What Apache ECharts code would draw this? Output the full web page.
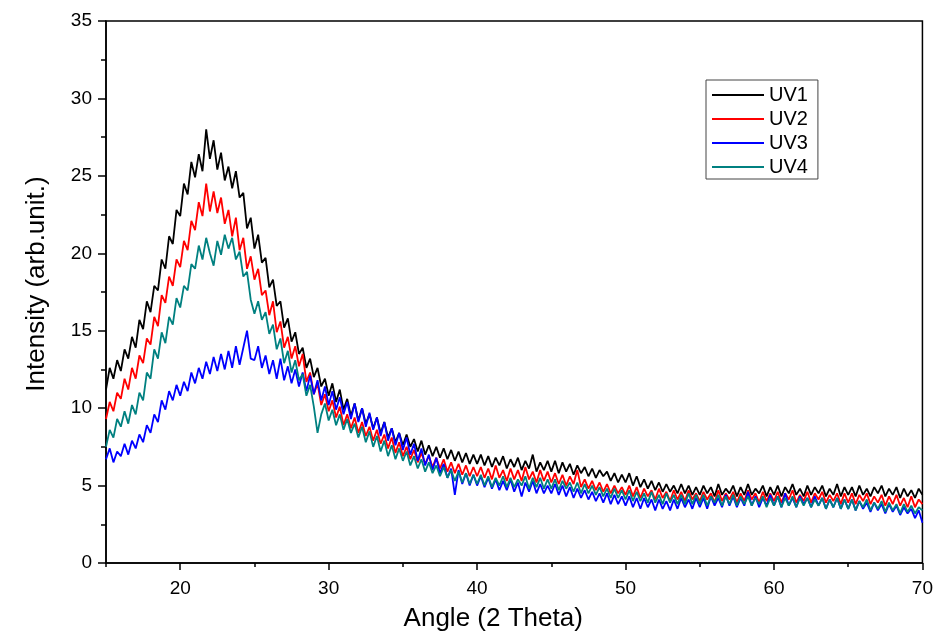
<!DOCTYPE html>
<html>
<head>
<meta charset="utf-8">
<script src="https://cdn.jsdelivr.net/npm/echarts@6/dist/echarts.min.js"></script>
<style>
html,body{margin:0;padding:0;background:#fff;}
#chart{width:936px;height:637px;}
</style>
</head>
<body>
<div id="chart"></div>
<script>
// Sampling grid of the scans (2θ in degrees)
const ANGLE_START = 15;
const ANGLE_STEP = 0.25;

const seriesNames = ['UV1', 'UV2', 'UV3', 'UV4'];
const seriesColors = ['#000000', '#ff0000', '#0000ff', '#008080'];

const xMajorTicks = [20, 30, 40, 50, 60, 70];
const xMinorTicks = [15, 25, 35, 45, 55, 65];

// Intensities, one value per 0.25°, 15° .. 70°
const uv1 = [
 11.2,12.6,11.9,13.1,12.4,13.8,13.2,14.6,13.9,15.7,15.1,16.9,16.2,17.9,17.6,19.6,19.0,21.1,20.6,22.8,
 22.4,24.5,23.8,25.9,24.9,26.4,25.3,28.0,26.1,27.3,25.4,26.5,24.7,25.6,24.2,25.3,23.6,23.9,21.6,22.3,
 20.3,21.2,19.4,19.7,17.8,18.3,16.6,16.9,15.2,15.8,14.3,14.9,13.5,13.9,12.6,13.2,12.0,12.6,11.4,11.9,
 10.8,11.6,10.4,11.2,9.9,10.6,9.5,10.3,9.2,10.0,9.0,9.6,8.7,9.4,8.4,9.1,8.1,8.7,7.8,8.4,
 7.6,8.3,7.5,8.0,7.2,7.9,7.0,7.6,6.9,7.5,6.8,7.4,6.7,7.3,6.6,7.2,6.5,7.1,6.4,7.0,
 6.4,7.0,6.3,6.9,6.2,6.8,6.3,6.9,6.1,6.7,6.2,6.8,6.0,6.6,6.1,7.0,5.9,6.5,6.0,6.6,
 5.9,6.6,5.8,6.5,5.9,6.4,5.7,6.3,5.8,6.2,5.6,6.1,5.5,6.0,5.6,5.9,5.3,5.8,5.2,5.7,
 5.2,5.8,5.0,5.6,4.9,5.4,4.8,5.3,4.7,5.2,4.6,5.1,4.6,5.0,4.5,5.1,4.5,5.0,4.4,4.9,
 4.4,5.0,4.5,4.9,4.3,5.1,4.4,4.8,4.5,5.0,4.3,4.9,4.4,5.1,4.4,4.8,4.5,5.0,4.3,4.9,
 4.4,5.0,4.3,4.9,4.5,5.1,4.4,4.8,4.3,5.0,4.4,4.9,4.5,5.0,4.3,4.8,4.4,5.1,4.3,4.9,
 4.4,4.9,4.3,5.0,4.4,4.8,4.3,4.9,4.5,5.0,4.3,4.8,4.4,4.9,4.2,4.8,4.3,4.7,4.2,4.8,
 4.4
];
const uv2 = [
 9.3,10.4,9.8,11.0,10.6,11.9,11.2,12.6,11.9,13.4,12.9,14.5,14.1,15.9,15.3,17.3,16.8,18.5,17.9,19.6,
 19.1,20.8,20.2,22.1,21.5,23.3,22.4,24.5,22.7,24.0,22.6,23.6,21.9,22.8,21.1,22.3,20.2,21.0,19.0,19.8,
 18.3,19.0,17.3,17.6,16.0,16.9,14.9,15.6,13.9,14.6,13.2,14.0,12.7,13.5,11.7,12.3,10.9,11.6,10.2,10.9,
 9.8,10.5,9.4,10.1,8.9,9.6,8.7,9.4,8.4,9.1,8.2,8.8,7.9,8.6,7.7,8.3,7.4,8.1,7.1,7.8,
 6.9,7.5,6.7,7.3,6.5,7.1,6.4,6.9,6.2,6.8,6.1,6.7,5.9,6.5,5.8,6.4,5.7,6.3,5.6,6.2,
 5.6,6.2,5.5,6.1,5.4,6.3,5.5,6.0,5.3,6.1,5.4,6.0,5.3,6.2,5.4,5.9,5.2,6.0,5.3,5.9,
 5.2,5.8,5.1,5.7,5.0,5.6,5.1,6.0,4.9,5.4,4.8,5.3,4.7,5.2,4.6,5.1,4.5,5.0,4.5,4.9,
 4.4,5.0,4.3,4.9,4.2,4.8,4.3,4.7,4.1,4.8,4.2,4.6,4.0,4.7,4.1,4.6,4.0,4.7,4.1,4.5,
 4.0,4.6,4.1,4.5,3.9,4.7,4.0,4.5,4.1,4.6,3.9,4.5,4.0,4.7,4.1,4.5,3.9,4.6,4.0,4.5,
 4.0,4.6,3.9,4.5,4.1,4.7,3.9,4.4,4.0,4.6,3.9,4.5,4.1,4.6,3.9,4.4,4.0,4.5,3.8,4.5,
 3.9,4.5,3.8,4.4,4.0,4.5,3.8,4.3,3.9,4.4,3.7,4.3,3.8,4.4,3.7,4.2,3.6,4.3,3.6,4.1,
 3.8
];
const uv3 = [
 6.7,7.4,6.5,7.2,6.9,7.7,7.0,7.9,7.4,8.3,7.8,8.9,8.4,9.6,9.1,10.5,9.9,11.1,10.5,11.5,
 10.8,11.7,11.1,12.3,11.6,12.6,11.9,13.0,12.2,13.3,12.4,13.5,12.5,13.7,12.6,14.0,12.8,13.9,15.0,13.2,
 13.1,14.0,12.6,13.4,12.2,13.1,11.9,13.2,11.8,12.7,11.6,12.5,11.4,12.3,11.1,12.1,10.9,11.8,10.5,11.4,
 10.2,11.1,9.9,10.7,9.6,10.4,9.3,10.3,9.1,10.0,8.8,9.7,8.6,9.4,8.2,9.1,7.9,8.7,7.6,8.4,
 7.3,8.1,7.0,7.7,6.6,7.4,6.3,7.0,6.0,6.8,5.8,6.4,5.5,6.1,4.4,6.0,5.1,5.8,5.0,5.7,
 5.0,5.6,4.9,5.5,4.8,5.4,4.7,5.3,4.7,5.4,4.6,5.2,4.3,5.2,4.6,5.3,4.5,5.1,4.5,5.0,
 4.5,5.1,4.4,5.0,4.3,4.9,4.2,4.8,4.2,4.7,4.1,4.6,4.0,4.5,3.9,4.5,3.8,4.4,3.8,4.3,
 3.7,4.3,3.6,4.2,3.5,4.2,3.6,4.1,3.4,4.1,3.5,4.0,3.4,4.1,3.5,4.2,3.6,4.1,3.5,4.2,
 3.6,4.2,3.5,4.3,3.7,4.2,3.6,4.4,3.7,4.3,3.6,4.2,3.7,4.6,3.7,4.3,3.6,4.2,3.7,4.4,
 3.7,4.3,3.6,4.5,3.7,4.2,3.6,4.3,3.8,4.2,3.6,4.3,3.7,4.2,3.5,4.1,3.6,4.2,3.5,4.1,
 3.5,4.1,3.4,4.0,3.5,3.9,3.3,3.9,3.4,3.8,3.2,3.8,3.3,3.7,3.1,3.6,3.2,3.5,2.9,3.4,
 2.6
];
const uv4 = [
 7.5,8.6,8.1,9.3,8.8,9.8,9.0,10.2,9.6,11.0,10.5,12.3,11.9,13.8,13.2,14.9,14.2,15.9,15.4,17.1,
 16.5,17.9,17.6,19.3,19.0,20.5,19.6,21.0,20.0,19.2,20.8,19.9,21.2,20.3,21.0,19.6,20.1,18.5,18.8,17.0,
 16.1,16.9,15.7,16.2,14.8,15.4,13.8,14.5,12.9,13.7,12.3,13.1,11.8,12.2,10.8,11.5,10.1,8.4,9.6,10.3,
 9.2,9.9,8.9,9.6,8.6,9.3,8.4,9.0,8.1,8.8,7.8,8.5,7.5,8.2,7.2,7.9,6.9,7.6,6.7,7.4,
 6.6,7.2,6.3,6.9,6.1,6.7,5.9,6.5,5.8,6.3,5.6,6.2,5.5,6.0,5.3,5.9,5.2,5.8,5.1,5.7,
 5.1,5.7,5.0,5.6,4.9,5.5,5.0,5.6,4.9,5.5,4.9,5.4,5.0,5.6,4.8,5.5,4.9,5.5,4.8,5.4,
 4.8,5.4,4.7,5.3,4.8,5.2,4.6,5.2,4.5,5.1,4.5,5.0,4.4,4.9,4.3,4.8,4.2,4.8,4.2,4.7,
 4.1,4.7,4.0,4.6,4.0,4.5,3.9,4.6,3.9,4.4,3.8,4.5,3.9,4.4,3.8,4.4,3.8,4.5,3.8,4.4,
 3.8,4.4,3.7,4.3,3.9,4.4,3.7,4.3,3.8,4.4,3.7,4.3,3.8,4.3,3.7,4.2,3.8,4.3,3.6,4.2,
 3.7,4.3,3.6,4.2,3.7,4.3,3.6,4.2,3.7,4.2,3.6,4.1,3.7,4.2,3.5,4.1,3.6,4.2,3.5,4.1,
 3.5,4.1,3.4,4.0,3.6,4.1,3.4,3.9,3.5,4.0,3.3,3.9,3.4,3.8,3.2,3.8,3.3,3.7,3.2,3.6,
 3.4
];

const seriesValues = [uv1, uv2, uv3, uv4];
function toPairs(values) {
  return values.map((v, i) => [ANGLE_START + i * ANGLE_STEP, v]);
}

const FONT = "'Liberation Sans', Arial, sans-serif";
const chart = echarts.init(document.getElementById('chart'), null, { renderer: 'canvas' });

const option = {
  backgroundColor: '#ffffff',
  animation: false,
  grid: {
    left: 106, right: 10, top: 21, bottom: 68,
    show: true, borderColor: '#000', borderWidth: 1.5, backgroundColor: 'transparent'
  },
  legend: {
    orient: 'vertical',
    left: 706, top: 80,
    data: seriesNames.map(n => ({ name: n, icon: 'rect' })),
    itemWidth: 52, itemHeight: 2, itemGap: 4,
    padding: [5, 10, 2, 6],
    borderColor: '#444', borderWidth: 1,
    textStyle: { fontFamily: FONT, fontSize: 20, color: '#000', lineHeight: 19 }
  },
  xAxis: [
    {
      type: 'value', min: 15, max: 70, interval: 5, position: 'bottom',
      axisLine: { lineStyle: { color: '#000', width: 1.5 } },
      axisTick: { show: true, inside: false, length: 7, customValues: xMajorTicks, lineStyle: { color: '#000', width: 1.5 } },
      axisLabel: { customValues: xMajorTicks, margin: 16, fontSize: 19, color: '#000', fontFamily: FONT },
      splitLine: { show: false },
      name: 'Angle (2 Theta)', nameLocation: 'middle', nameGap: 43,
      nameTextStyle: { fontSize: 26, color: '#000', fontFamily: FONT, padding: [0, 42, 0, 0] }
    },
    {
      type: 'value', min: 15, max: 70, interval: 5, position: 'bottom',
      axisLine: { show: false },
      axisTick: { show: true, inside: false, length: 4, customValues: xMinorTicks, lineStyle: { color: '#000', width: 1.5 } },
      axisLabel: { show: false },
      splitLine: { show: false }
    }
  ],
  yAxis: {
    type: 'value', min: 0, max: 35, interval: 5,
    axisLine: { show: true, lineStyle: { color: '#000', width: 1.5 } },
    axisTick: { show: true, inside: false, length: 8, lineStyle: { color: '#000', width: 1.5 } },
    minorTick: { show: true, splitNumber: 2, length: 5, lineStyle: { color: '#000', width: 1.5 } },
    axisLabel: { margin: 14, fontSize: 19, color: '#000', fontFamily: FONT },
    splitLine: { show: false },
    name: 'Intensity (arb.unit.)', nameLocation: 'middle', nameGap: 56, nameRotate: 90,
    nameTextStyle: { fontSize: 26, color: '#000', fontFamily: FONT, padding: [0, 0, 0, 16] }
  },
  series: seriesNames.map((name, k) => ({
    name: name,
    type: 'line',
    xAxisIndex: 0,
    data: toPairs(seriesValues[k]),
    symbol: 'none',
    showSymbol: false,
    color: seriesColors[k],
    lineStyle: { color: seriesColors[k], width: 1.8 },
    emphasis: { disabled: true }
  }))
};
chart.setOption(option);
</script>
</body>
</html>
